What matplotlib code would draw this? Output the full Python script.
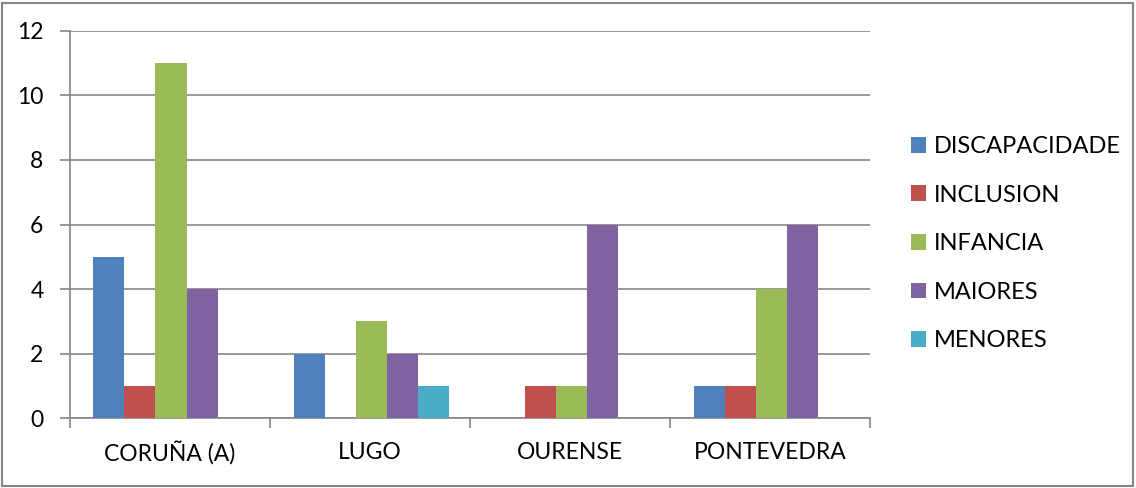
import numpy as np
import matplotlib.pyplot as plt
from matplotlib.patches import Rectangle

plt.rcParams['font.family'] = ['Lato', 'DejaVu Sans']

# data
provincias = ['CORUÑA (A)', 'LUGO', 'OURENSE', 'PONTEVEDRA']
series = ['DISCAPACIDADE', 'INCLUSION', 'INFANCIA', 'MAIORES', 'MENORES']
discapacidade = [5, 2, 0, 1]
inclusion = [1, 0, 1, 1]
infancia = [11, 3, 1, 4]
maiores = [4, 2, 6, 6]
menores = [0, 1, 0, 0]
valores = [discapacidade, inclusion, infancia, maiores, menores]
colores = ['#4F81BD', '#C0504D', '#9BBB59', '#8064A2', '#4BACC6']

fig = plt.figure(figsize=(11.36, 4.88), dpi=100)
ax = fig.add_axes([0.0616, 0.1434, 0.7044, 0.7931])

x = np.arange(len(provincias))
w = 0.155
for i, (nome, vals, col) in enumerate(zip(series, valores, colores)):
    ax.bar(x + (i - 2) * w + 0.005, vals, width=w, color=col, label=nome, zorder=3)

ax.set_xlim(-0.5, 3.5)
ax.set_ylim(0, 12)
ax.set_yticks(range(0, 13, 2))
ax.grid(axis='y', color='#868686', linewidth=1.2, zorder=0)
ax.set_xticks(x)
ax.set_xticklabels(provincias)
ax.set_xticks(np.arange(-0.5, 4, 1), minor=True)
ax.tick_params(axis='x', which='major', length=0, pad=17, labelsize=16.5)
ax.tick_params(axis='x', which='minor', length=7, width=1.2, color='#868686', direction='out')
ax.tick_params(axis='y', length=7, width=1.2, color='#868686', labelsize=16.5, pad=12)
for s in ['top', 'right']:
    ax.spines[s].set_visible(False)
for s in ['left', 'bottom']:
    ax.spines[s].set_color('#868686')
    ax.spines[s].set_linewidth(1.2)

leg = fig.legend(loc='upper left', bbox_to_anchor=(0.783, 0.765), frameon=False,
                 fontsize=17, handlelength=0.65, handleheight=0.65,
                 handletextpad=0.35, labelspacing=1.17)

fig.patches.append(Rectangle((0.002, 0.004), 0.995, 0.99, transform=fig.transFigure,
                             fill=False, edgecolor='#868686', linewidth=1.5))

fig.savefig('out.png', dpi=100)
